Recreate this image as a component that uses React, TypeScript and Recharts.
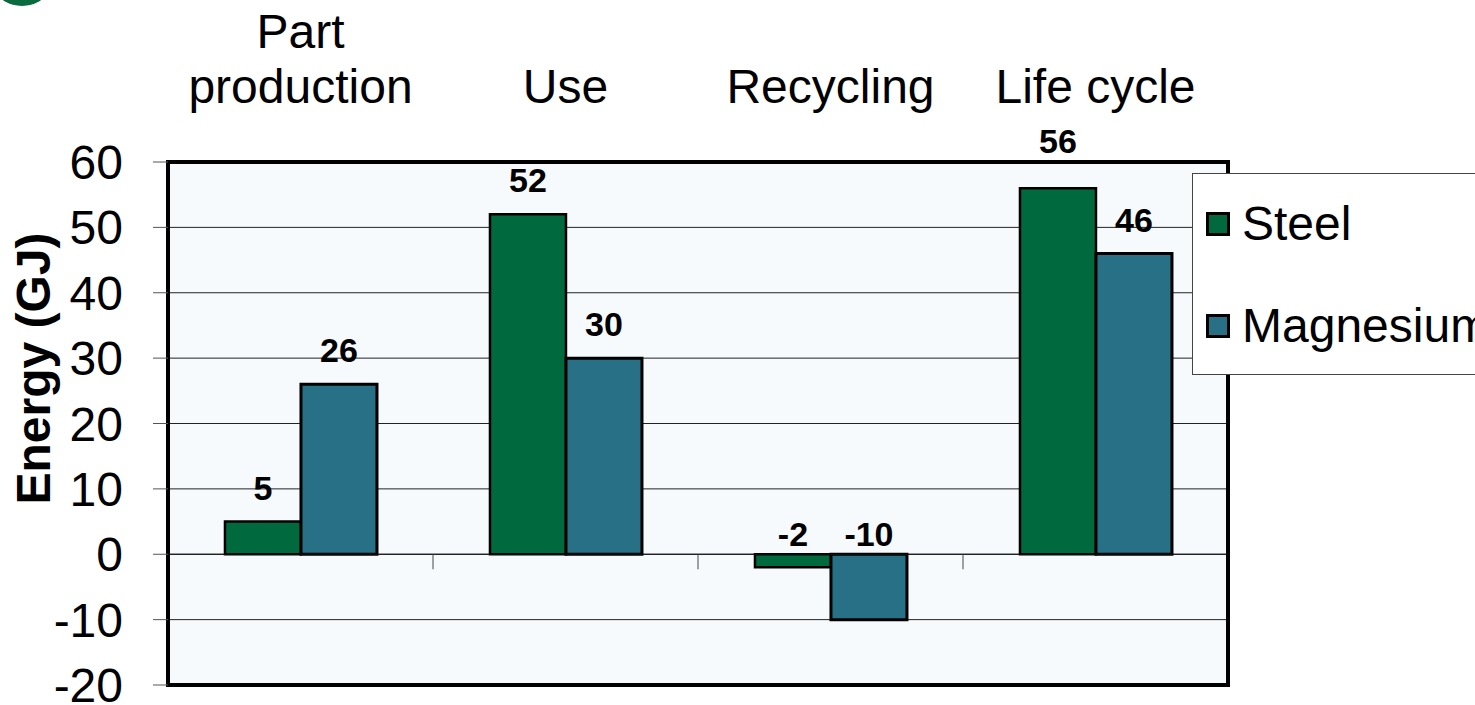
import React from "react";
import {
  BarChart,
  Bar,
  XAxis,
  YAxis,
  CartesianGrid,
  ReferenceLine,
  ReferenceArea,
  Legend,
  LabelList,
  Label,
} from "recharts";

const categories = ["Part production", "Use", "Recycling", "Life cycle"];
const categoryLines = [["Part", "production"], ["Use"], ["Recycling"], ["Life cycle"]];
const steel = [5, 52, -2, 56];
const magnesium = [26, 30, -10, 46];
const seriesNames = ["Steel", "Magnesium"];
const yTicks = [-20, -10, 0, 10, 20, 30, 40, 50, 60];

const STEEL_COLOR = "#006A3E";
const MAGNESIUM_COLOR = "#277085";
const PLOT_BG = "#F7FAFC";
const FONT = "'Liberation Sans', Arial, sans-serif";
const PLOT_TOP = 162;

const data = categories.map((name, i) => ({
  name,
  steel: steel[i],
  magnesium: magnesium[i],
}));

// category names sit above the plot, last line on a common baseline
function CategoryTick({ x, index }: any) {
  const lines = categoryLines[index] ?? [];
  const lastBaseline = 103;
  const lineHeight = 55;
  return (
    <text
      textAnchor="middle"
      fontSize={48}
      fontFamily={FONT}
      fill="#000"
    >
      {lines.map((line, i) => (
        <tspan
          key={i}
          x={x}
          y={lastBaseline - (lines.length - 1 - i) * lineHeight}
        >
          {line}
        </tspan>
      ))}
    </text>
  );
}

// zero line with small marks between the categories
function ZeroLine(props: any) {
  const { x1, y1, x2, y2 } = props;
  const step = (x2 - x1) / categories.length;
  return (
    <g>
      <line x1={x1} y1={y1} x2={x2} y2={y2} stroke="#111" strokeWidth={1} />
      {categories.slice(1).map((_, i) => (
        <line
          key={i}
          x1={x1 + step * (i + 1)}
          x2={x1 + step * (i + 1)}
          y1={y1}
          y2={y1 + 15}
          stroke="#444"
          strokeWidth={1}
        />
      ))}
    </g>
  );
}

function BarValue(props: any) {
  const { x, y, width, height, value } = props;
  const top = Math.min(y, y + height);
  let baseline = top - (value < 0 ? 8 : 22);
  // keep labels clear of the plot frame
  if (baseline > PLOT_TOP - 8 && baseline - 25 < PLOT_TOP + 4) {
    baseline = PLOT_TOP - 9;
  }
  return (
    <text
      x={x + width / 2}
      y={baseline}
      textAnchor="middle"
      fontSize={34}
      fontWeight="bold"
      fontFamily={FONT}
      fill="#000"
    >
      {value}
    </text>
  );
}

function AxisTitle(props: any) {
  const vb = props.viewBox;
  const cx = vb.x + 50;
  const cy = vb.y + vb.height / 2 - 55;
  return (
    <text
      x={cx}
      y={cy}
      transform={`rotate(-90 ${cx} ${cy})`}
      textAnchor="middle"
      fontSize={48}
      fontWeight="bold"
      fontFamily={FONT}
      fill="#000"
    >
      Energy (GJ)
    </text>
  );
}

function LegendBox() {
  const colors = [STEEL_COLOR, MAGNESIUM_COLOR];
  return (
    <div
      style={{
        position: "relative",
        width: 300,
        height: 202,
        boxSizing: "border-box",
        background: "#fff",
        border: "1px solid #444",
      }}
    >
      {seriesNames.map((name, i) => (
        <div
          key={name}
          style={{
            position: "absolute",
            left: 13,
            top: 26 + i * 102,
            height: 48,
            display: "flex",
            alignItems: "center",
          }}
        >
          <span
            style={{
              display: "inline-block",
              width: 24,
              height: 24,
              boxSizing: "border-box",
              background: colors[i],
              border: "3px solid #000",
            }}
          />
          <span
            style={{
              marginLeft: 12,
              fontFamily: FONT,
              fontSize: 48,
              lineHeight: "48px",
              color: "#000",
              whiteSpace: "nowrap",
            }}
          >
            {name}
          </span>
        </div>
      ))}
    </div>
  );
}

export default function App() {
  return (
    <div
      style={{
        position: "fixed",
        left: 0,
        top: 0,
        width: 1475,
        height: 705,
        overflow: "hidden",
        background: "#fff",
      }}
    >
      <div
        style={{
          position: "absolute",
          left: -2,
          top: -24,
          width: 48,
          height: 30,
          borderRadius: "50%",
          background: "#0A6B3E",
        }}
      />
      <BarChart
        width={1475}
        height={705}
        data={data}
        margin={{ top: 0, right: 247, bottom: 20, left: 0 }}
        barGap={0}
        barCategoryGap="21.5%"
      >
        <CartesianGrid
          horizontal
          vertical={false}
          stroke="#222"
          strokeWidth={1}
          fill={PLOT_BG}
          fillOpacity={1}
        />
        <XAxis
          dataKey="name"
          orientation="top"
          height={PLOT_TOP}
          axisLine={false}
          tickLine={false}
          interval={0}
          tick={(p: any) => <CategoryTick {...p} />}
        />
        <YAxis
          type="number"
          domain={[-20, 60]}
          ticks={yTicks}
          interval={0}
          width={168}
          axisLine={false}
          tickSize={15}
          tickMargin={30}
          tickLine={{ stroke: "#555" }}
          tick={{ fontSize: 48, fill: "#000", fontFamily: FONT }}
        >
          <Label content={(p: any) => <AxisTitle {...p} />} />
        </YAxis>
        <ReferenceArea
          y1={-20}
          y2={60}
          fill="#fff"
          fillOpacity={0}
          stroke="#000"
          strokeWidth={4}
        />
        <ReferenceLine y={0} shape={(p: any) => <ZeroLine {...p} />} />
        <Legend
          layout="vertical"
          align="center"
          verticalAlign="middle"
          wrapperStyle={{ left: 1192, top: 173, width: 300, height: 202 }}
          content={() => <LegendBox />}
        />
        <Bar
          dataKey="steel"
          name={seriesNames[0]}
          fill={STEEL_COLOR}
          stroke="#000"
          strokeWidth={2.5}
          isAnimationActive={false}
        >
          <LabelList dataKey="steel" content={(p: any) => <BarValue {...p} />} />
        </Bar>
        <Bar
          dataKey="magnesium"
          name={seriesNames[1]}
          fill={MAGNESIUM_COLOR}
          stroke="#000"
          strokeWidth={3}
          isAnimationActive={false}
        >
          <LabelList
            dataKey="magnesium"
            content={(p: any) => <BarValue {...p} />}
          />
        </Bar>
      </BarChart>
    </div>
  );
}
